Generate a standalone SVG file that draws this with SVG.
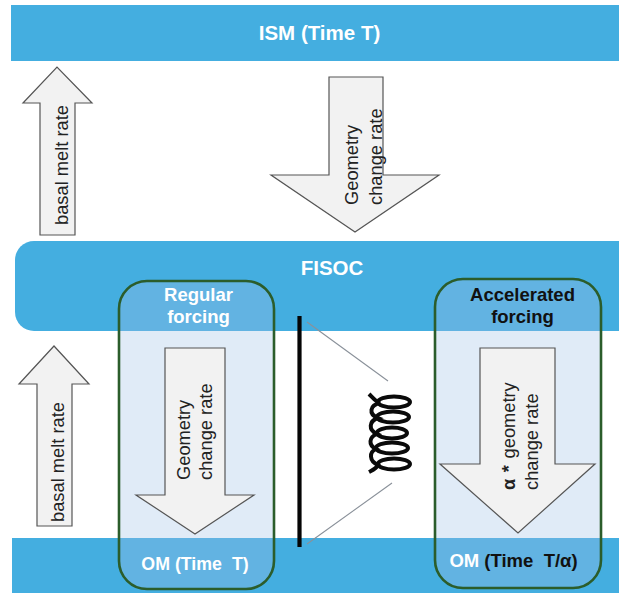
<svg xmlns="http://www.w3.org/2000/svg" width="619" height="597" viewBox="0 0 619 597">
<style>
text{font-family:"Liberation Sans",Arial,sans-serif}
.band{fill:#44aee0}
.arrow{fill:#f2f2f2;stroke:#555;stroke-width:1.2;stroke-linejoin:miter}
.lab{font-size:18.300px;fill:#222}
.w{font-size:18.500px;font-weight:bold;fill:#fff;text-anchor:middle}
.big{font-size:20.500px}
.om{font-size:17.800px}
.k{font-size:18.500px;font-weight:bold;fill:#111;text-anchor:middle}
.frame{fill:none;stroke:#2b5d2b;stroke-width:2.6}
.thin{stroke:#8a919a;stroke-width:1.1;fill:none}
.coil{fill:none;stroke:#0a0a0a;stroke-width:4}
</style>
<rect width="619" height="597" fill="#fff"/>
<g id="ism"><rect class="band" x="11" y="5" width="608" height="56"/><text class="w big" x="319.500" y="40">ISM (Time T)</text></g>
<g id="fisoc"><path class="band" d="M619 241H34a19 19 0 0 0-19 19V312a19 19 0 0 0 19 19H619Z"/><text class="w big" x="332" y="275">FISOC</text></g>
<g id="om"><rect class="band" x="12" y="538" width="607" height="55"/></g>
<g id="regular">
<path d="M119 331H275V538H119Z" fill="#e0ebf7"/>
<path d="M147 281H247a27 27 0 0 1 27 27V331H119V308a27 27 0 0 1 28-27Z" fill="#62b3e2"/>
<path d="M119 538H274V562a27 27 0 0 1-27 27H147a28 27 0 0 1-28-27Z" fill="#62b3e2"/>
<rect class="frame" x="119" y="281" width="155" height="308" rx="28"/>
<text class="w" x="198.500" y="301">Regular</text><text class="w" x="198.500" y="323">forcing</text>
<text class="w om" x="195" y="570" xml:space="preserve">OM (Time  T)</text>
</g>
<g id="accelerated">
<path d="M435 331H601V538H435Z" fill="#e0ebf7"/>
<path d="M463 279H573a28 28 0 0 1 28 28V331H435V307a28 28 0 0 1 28-28Z" fill="#62b3e2"/>
<path d="M435 538H601V560a28 28 0 0 1-28 28H463a28 28 0 0 1-28-28Z" fill="#62b3e2"/>
<rect class="frame" x="435" y="279" width="166" height="309" rx="28"/>
<text class="k" x="522.500" y="301">Accelerated</text><text class="k" x="522.500" y="323">forcing</text>
<text class="k om" x="513.500" y="567" xml:space="preserve"><tspan fill="#fff">OM</tspan> (Time  T/α)</text>
</g>
<g id="connectors">
<path class="arrow" d="M40 235V103H23L57 67L92 103H75V235Z"/>
<path class="arrow" d="M329 77V175H271L355 232L439 175H383V77Z"/>
<path class="arrow" d="M37 526V384H19L54 346L89 384H72V526Z"/>
<path class="arrow" d="M165 348V495H136L195 534L254 495H225V348Z"/>
<path class="arrow" d="M480 348V464H440L518 533L595 464H555V348Z"/>
<path d="M299.500 316V547" stroke="#050505" stroke-width="4.200" fill="none"/>
<path class="thin" d="M307 322L388 381M307 544L392 483"/>
<g class="coil">
<ellipse cx="394" cy="402" rx="16" ry="5.500"/>
<ellipse cx="393" cy="417" rx="16" ry="5.500"/>
<ellipse cx="392" cy="433" rx="15" ry="5.500"/>
<ellipse cx="392" cy="448" rx="16" ry="5.500"/>
<ellipse cx="394" cy="464" rx="16" ry="5.500"/>
<path d="M369 394C373 398 376 402 380 403C370 405 368 414 378 418C369 421 368 430 377 434C369 437 368 445 376 449C369 452 369 461 378 465C376 469 373 470 369 472"/>
</g>
</g>
<g id="labels">
<text class="lab" transform="translate(68 225) rotate(-90)">basal melt rate</text>
<text class="lab" transform="translate(64 522) rotate(-90)">basal melt rate</text>
<text class="lab" transform="translate(358 205) rotate(-90)">Geometry</text>
<text class="lab" transform="translate(382 205) rotate(-90)">change rate</text>
<text class="lab" transform="translate(190 480) rotate(-90)">Geometry</text>
<text class="lab" transform="translate(212 480) rotate(-90)">change rate</text>
<text class="lab" transform="translate(515 490) rotate(-90)" word-spacing="1.500"><tspan font-weight="bold">α</tspan> <tspan font-weight="bold">*</tspan> geometry</text>
<text class="lab" transform="translate(538 490) rotate(-90)">change rate</text>
</g>
</svg>
